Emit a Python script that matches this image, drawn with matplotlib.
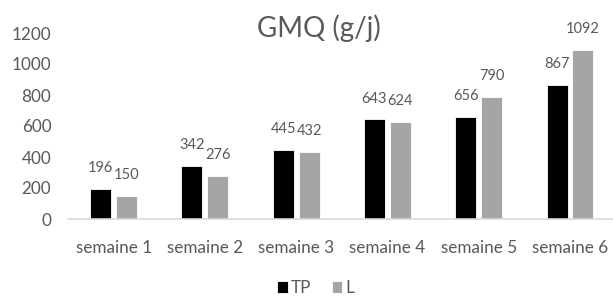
import numpy as np
import matplotlib.pyplot as plt

plt.rcParams['font.family'] = ['Lato', 'DejaVu Sans']

# données
semaines = ['semaine 1', 'semaine 2', 'semaine 3', 'semaine 4', 'semaine 5', 'semaine 6']
tp = [196, 342, 445, 643, 656, 867]
l = [150, 276, 432, 624, 790, 1092]

txt = '#595959'
x = np.arange(len(semaines))
w = 0.23
off = 0.142

fig = plt.figure(figsize=(6.13, 2.99), dpi=100)
ax = fig.add_axes([68 / 613, 80 / 299, (615.6 - 68) / 613, (219 - 33) / 299])

b1 = ax.bar(x - off, tp, w, color='black', edgecolor='white', linewidth=0.6, label='TP')
b2 = ax.bar(x + off, l, w, color='#a5a5a5', edgecolor='white', linewidth=0.6, label='L')

# étiquettes de données
for bars in (b1, b2):
    for b in bars:
        h = b.get_height()
        ax.annotate(str(int(h)), (b.get_x() + b.get_width() / 2, h),
                    xytext=(0, 15), textcoords='offset points',
                    ha='center', va='center', fontsize=10.5, color=txt)

ax.set_xlim(-0.5, 5.5)
ax.set_ylim(0, 1200)
ax.set_yticks(range(0, 1201, 200))
ax.set_xticks(x)
ax.set_xticklabels(semaines)
ax.tick_params(axis='both', length=0, colors=txt, labelsize=12.3)
ax.tick_params(axis='x', pad=15)
ax.tick_params(axis='y', pad=12)
for s in ['top', 'right', 'left']:
    ax.spines[s].set_visible(False)
ax.spines['bottom'].set_color('#d9d9d9')
ax.spines['bottom'].set_linewidth(1.2)

fig.text(319 / 613, 1 - 28 / 299, 'GMQ (g/j)', ha='center', va='center',
         fontsize=20, color=txt)

fig.legend(handles=[b1, b2], loc='center', bbox_to_anchor=(316 / 613, 1 - 288 / 299),
           ncol=2, frameon=False, fontsize=12.3, labelcolor=txt,
           handlelength=0.6, handleheight=0.7, handletextpad=0.2, columnspacing=1.2,
           borderpad=0)

plt.savefig('out.png', dpi=100)
